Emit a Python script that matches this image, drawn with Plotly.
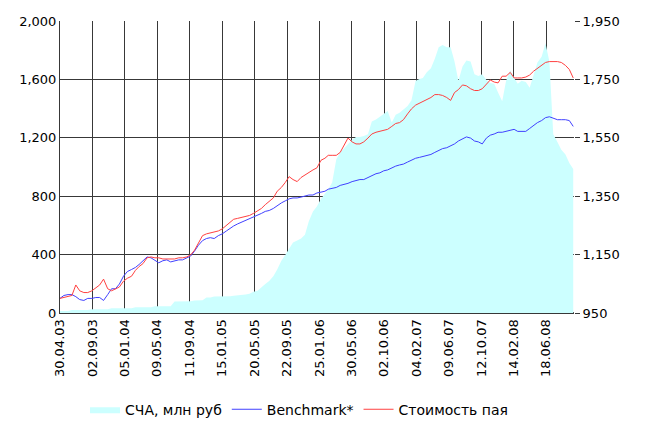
import calendar
import plotly.graph_objects as go

# ---- dates: semi-monthly observations (15th and month end) ----
dates = ["2003-04-30"]
for yr in range(2003, 2009):
    for mo in range(1, 13):
        if (yr, mo) < (2003, 5) or (yr, mo) > (2008, 9):
            continue
        last = calendar.monthrange(yr, mo)[1]
        dates.append(f"{yr}-{mo:02d}-15")
        dates.append(f"{yr}-{mo:02d}-{last:02d}")

# СЧА, млн руб (left axis)
nav = [13, 13, 13, 20, 20, 20, 20, 20, 26, 26, 26, 26, 26, 33, 33, 33, 33, 33, 33, 40,
       40, 40, 40, 40, 46, 46, 46, 46, 46, 79, 79, 79, 80, 80, 86, 86, 87, 106, 106, 113,
       113, 113, 114, 114, 119, 120, 126, 126, 132, 146, 152, 179, 199, 219, 252, 298, 358, 397, 444, 483,
       497, 510, 536, 629, 695, 729, 782, 815, 848, 894, 1053, 1099, 1126, 1159, 1186, 1205, 1205, 1212, 1225, 1311,
       1325, 1344, 1364, 1384, 1305, 1358, 1371, 1391, 1417, 1457, 1590, 1603, 1609, 1649, 1676, 1742, 1821, 1835, 1821, 1821,
       1722, 1590, 1689, 1729, 1722, 1636, 1623, 1636, 1596, 1576, 1570, 1510, 1450, 1590, 1662, 1609, 1570, 1590, 1583, 1543,
       1623, 1715, 1755, 1848, 1722, 1225, 1172, 1119, 1086, 1027, 987]

# Benchmark* (right axis)
bench = [1000, 1010, 1013, 1013, 1006, 996, 993, 1000, 1000, 1003, 1003, 993, 1013, 1033, 1033, 1049, 1076, 1092, 1099, 1106,
         1116, 1129, 1142, 1139, 1129, 1122, 1129, 1132, 1125, 1129, 1132, 1132, 1139, 1145, 1162, 1182, 1198, 1205, 1208, 1205,
         1215, 1221, 1231, 1241, 1248, 1255, 1261, 1268, 1271, 1278, 1284, 1291, 1298, 1301, 1308, 1318, 1327, 1334, 1341, 1344,
         1344, 1347, 1351, 1354, 1354, 1361, 1364, 1367, 1374, 1377, 1380, 1387, 1390, 1394, 1400, 1404, 1407, 1407, 1414, 1420,
         1427, 1430, 1437, 1440, 1447, 1453, 1457, 1460, 1467, 1473, 1480, 1483, 1486, 1490, 1493, 1500, 1506, 1513, 1516, 1523,
         1529, 1539, 1546, 1553, 1549, 1539, 1536, 1529, 1549, 1559, 1563, 1569, 1569, 1572, 1576, 1579, 1572, 1572, 1572, 1582,
         1592, 1602, 1609, 1619, 1622, 1616, 1612, 1612, 1612, 1609, 1589]

# Стоимость пая (right axis)
price = [1000, 1003, 1006, 1010, 1046, 1026, 1020, 1020, 1026, 1036, 1046, 1066, 1033, 1026, 1033, 1039, 1059, 1069, 1076, 1096,
         1109, 1119, 1139, 1142, 1139, 1139, 1135, 1135, 1135, 1135, 1139, 1139, 1142, 1149, 1165, 1188, 1215, 1221, 1225, 1228,
         1231, 1238, 1251, 1261, 1271, 1274, 1278, 1281, 1284, 1291, 1301, 1308, 1321, 1331, 1344, 1367, 1380, 1397, 1417, 1407,
         1400, 1414, 1423, 1430, 1440, 1447, 1473, 1480, 1490, 1490, 1490, 1500, 1523, 1549, 1536, 1529, 1529, 1536, 1549, 1563,
         1569, 1572, 1576, 1579, 1589, 1599, 1602, 1612, 1632, 1649, 1662, 1668, 1675, 1682, 1688, 1698, 1698, 1695, 1688, 1678,
         1705, 1715, 1731, 1728, 1718, 1712, 1712, 1718, 1735, 1748, 1741, 1738, 1761, 1761, 1774, 1755, 1755, 1755, 1758, 1765,
         1778, 1788, 1801, 1808, 1811, 1811, 1811, 1808, 1798, 1784, 1755]

tick_dates = ["2003-04-30", "2003-09-02", "2004-01-05", "2004-05-09", "2004-09-11", "2005-01-15",
              "2005-05-20", "2005-09-22", "2006-01-25", "2006-05-30", "2006-10-02", "2007-02-04",
              "2007-06-09", "2007-10-12", "2008-02-14", "2008-06-18"]
tick_labels = ["30.04.03", "02.09.03", "05.01.04", "09.05.04", "11.09.04", "15.01.05",
               "20.05.05", "22.09.05", "25.01.06", "30.05.06", "02.10.06", "04.02.07",
               "09.06.07", "12.10.07", "14.02.08", "18.06.08"]
left_ticks = [0, 400, 800, 1200, 1600, 2000]
right_ticks = [950, 1150, 1350, 1550, 1750, 1950]

FONT = "DejaVu Sans"
GRID = "#383838"

fig = go.Figure()
fig.add_trace(go.Scatter(x=dates, y=nav, name="СЧА, млн руб", mode="lines",
                         fill="tozeroy", fillcolor="#CCFFFF",
                         line=dict(width=0, color="#CCFFFF"), yaxis="y"))
fig.add_trace(go.Scatter(x=dates, y=bench, name="Benchmark*", mode="lines",
                         line=dict(width=1, color="#4040ff"), yaxis="y2"))
fig.add_trace(go.Scatter(x=dates, y=price, name="Стоимость пая", mode="lines",
                         line=dict(width=1, color="#ff4040"), yaxis="y2"))

fig.update_layout(
    width=650, height=429,
    margin=dict(l=52, r=84, t=13, b=114),
    paper_bgcolor="white", plot_bgcolor="white",
    font=dict(family=FONT, size=13, color="black"),
    showlegend=True,
    legend=dict(orientation="h", x=0.465, xanchor="center", y=-0.331, yanchor="middle",
                itemwidth=30, tracegroupgap=0,
                font=dict(size=14), bgcolor="rgba(0,0,0,0)"),
    xaxis=dict(type="date", range=["2003-04-30", "2008-10-03"],
               tickvals=tick_dates, ticktext=tick_labels, tickangle=-90,
               showgrid=True, gridcolor=GRID, gridwidth=1,
               showline=True, linecolor=GRID, ticks="", automargin=False,
               tickfont=dict(size=13)),
    yaxis=dict(range=[0, 2000], tickvals=left_ticks, tickformat=",d",
               showgrid=True, gridcolor=GRID, gridwidth=1,
               zeroline=True, zerolinecolor=GRID,
               showline=True, linecolor=GRID, ticks="", automargin=False),
    yaxis2=dict(range=[950, 1950], tickvals=right_ticks, tickformat=",d",
                overlaying="y", side="right", showgrid=False, zeroline=False,
                ticks="outside", ticklen=5, tickcolor=GRID, showline=False,
                automargin=False),
)

for txt, yy in [("Цена пая", 0.593), ("Доходность", 0.474), ("Структура", -0.033)]:
    fig.add_annotation(text=f"<b>{txt}</b>", xref="paper", yref="paper",
                       x=(641 - 52) / 514, y=yy, xanchor="left", yanchor="middle",
                       showarrow=False, font=dict(size=14, family=FONT))

fig.write_html("out.html")
